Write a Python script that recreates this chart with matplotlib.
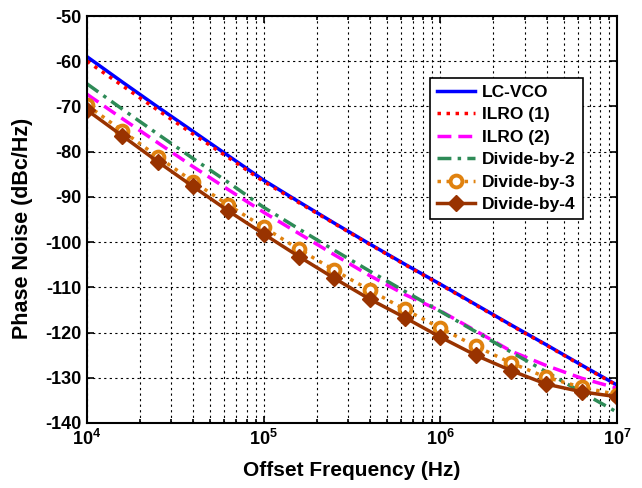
import matplotlib
matplotlib.use("Agg")
import matplotlib.pyplot as plt
from matplotlib.ticker import LogLocator, NullFormatter

plt.rcParams["font.family"] = ["Liberation Sans", "DejaVu Sans"]
plt.rcParams["font.weight"] = "bold"
plt.rcParams["axes.unicode_minus"] = False
plt.rcParams["mathtext.fontset"] = "custom"
plt.rcParams["mathtext.rm"] = "Liberation Sans:bold"
plt.rcParams["mathtext.it"] = "Liberation Sans:bold"
plt.rcParams["mathtext.bf"] = "Liberation Sans:bold"

# offset frequencies (Hz), 5 points per decade
freq = [1e4, 1.585e4, 2.512e4, 3.981e4, 6.310e4,
        1e5, 1.585e5, 2.512e5, 3.981e5, 6.310e5,
        1e6, 1.585e6, 2.512e6, 3.981e6, 6.310e6, 1e7]

lc_vco = [-59.0, -64.6, -70.1, -75.5, -80.9, -86.3, -91.1, -95.8,
          -100.4, -104.9, -109.3, -113.8, -118.3, -122.7, -127.2, -131.6]
ilro1 = [-60.0, -65.4, -70.8, -76.1, -81.3, -86.6, -91.3, -95.9,
         -100.5, -105.0, -109.4, -113.9, -118.4, -122.8, -127.3, -131.7]
ilro2 = [-67.3, -72.7, -78.0, -83.3, -88.4, -93.4, -98.1, -102.8,
         -107.4, -111.6, -115.2, -119.6, -124.1, -127.3, -130.1, -132.3]
div2 = [-65.0, -70.6, -76.1, -81.5, -86.8, -92.3, -97.1, -101.8,
        -106.4, -110.9, -115.3, -119.8, -124.3, -128.7, -133.2, -137.6]
div3 = [-69.7, -75.4, -81.1, -86.6, -91.8, -96.7, -101.6, -106.2,
        -110.6, -114.9, -119.0, -123.0, -126.7, -129.9, -132.1, -133.7]
div4 = [-70.8, -76.5, -82.2, -87.7, -93.1, -98.2, -103.2, -108.0,
        -112.6, -116.7, -121.0, -125.0, -128.4, -131.4, -133.1, -134.2]

fig = plt.figure(figsize=(6.42, 4.88), dpi=100)
ax = fig.add_axes([0.1355, 0.1332, 0.8255, 0.8340])

ax.plot(freq, lc_vco, color="#0000FF", linewidth=2.5, label="LC-VCO")
ax.plot(freq, ilro1, color="#FF0000", linewidth=2.5, linestyle=(0, (1, 1.6)),
        label="ILRO (1)")
ax.plot(freq, ilro2, color="#FF00FF", linewidth=2.5, linestyle=(0, (4, 2)),
        label="ILRO (2)")
ax.plot(freq, div2, color="#2E8B57", linewidth=2.5,
        linestyle=(0, (4, 1.8, 1, 1.8)), label="Divide-by-2")
ax.plot(freq, div3, color="#E0820F", linewidth=2.5, linestyle=(0, (1, 1.6)),
        marker="o", markersize=8.5, markerfacecolor="white",
        markeredgewidth=2.8, label="Divide-by-3")
ax.plot(freq, div4, color="#993300", linewidth=2.5, marker="D",
        markersize=8.5, label="Divide-by-4")

ax.set_xscale("log")
ax.set_xlim(1e4, 1e7)
ax.set_ylim(-140, -50)
ax.set_yticks(range(-140, -49, 10))
ax.xaxis.set_minor_locator(LogLocator(base=10, subs=range(2, 10)))
ax.xaxis.set_minor_formatter(NullFormatter())

ax.grid(True, which="major", color="black", linestyle=(0, (2, 3)), linewidth=0.8)
ax.grid(True, which="minor", axis="x", color="black", linestyle=(0, (2, 3)),
        linewidth=0.8)

ax.tick_params(which="both", direction="in", top=True, right=True,
               labelsize=13, width=1.2)
ax.tick_params(which="major", length=5, pad=4)
ax.tick_params(which="minor", length=3)
for s in ax.spines.values():
    s.set_linewidth(1.5)

ax.set_xlabel("Offset Frequency (Hz)", fontsize=15, fontweight="bold", labelpad=9)
ax.set_ylabel("Phase Noise (dBc/Hz)", fontsize=15.5, fontweight="bold")
ax.yaxis.set_label_coords(-0.102, 0.478)

leg = ax.legend(loc="upper right", bbox_to_anchor=(0.936, 0.848), fontsize=12.5,
                fancybox=False, edgecolor="black", framealpha=1,
                handlelength=2.2, handletextpad=0.4, borderpad=0.4,
                labelspacing=0.42, borderaxespad=0)
leg.get_frame().set_linewidth(1.2)

fig.savefig("out.png", dpi=100)
